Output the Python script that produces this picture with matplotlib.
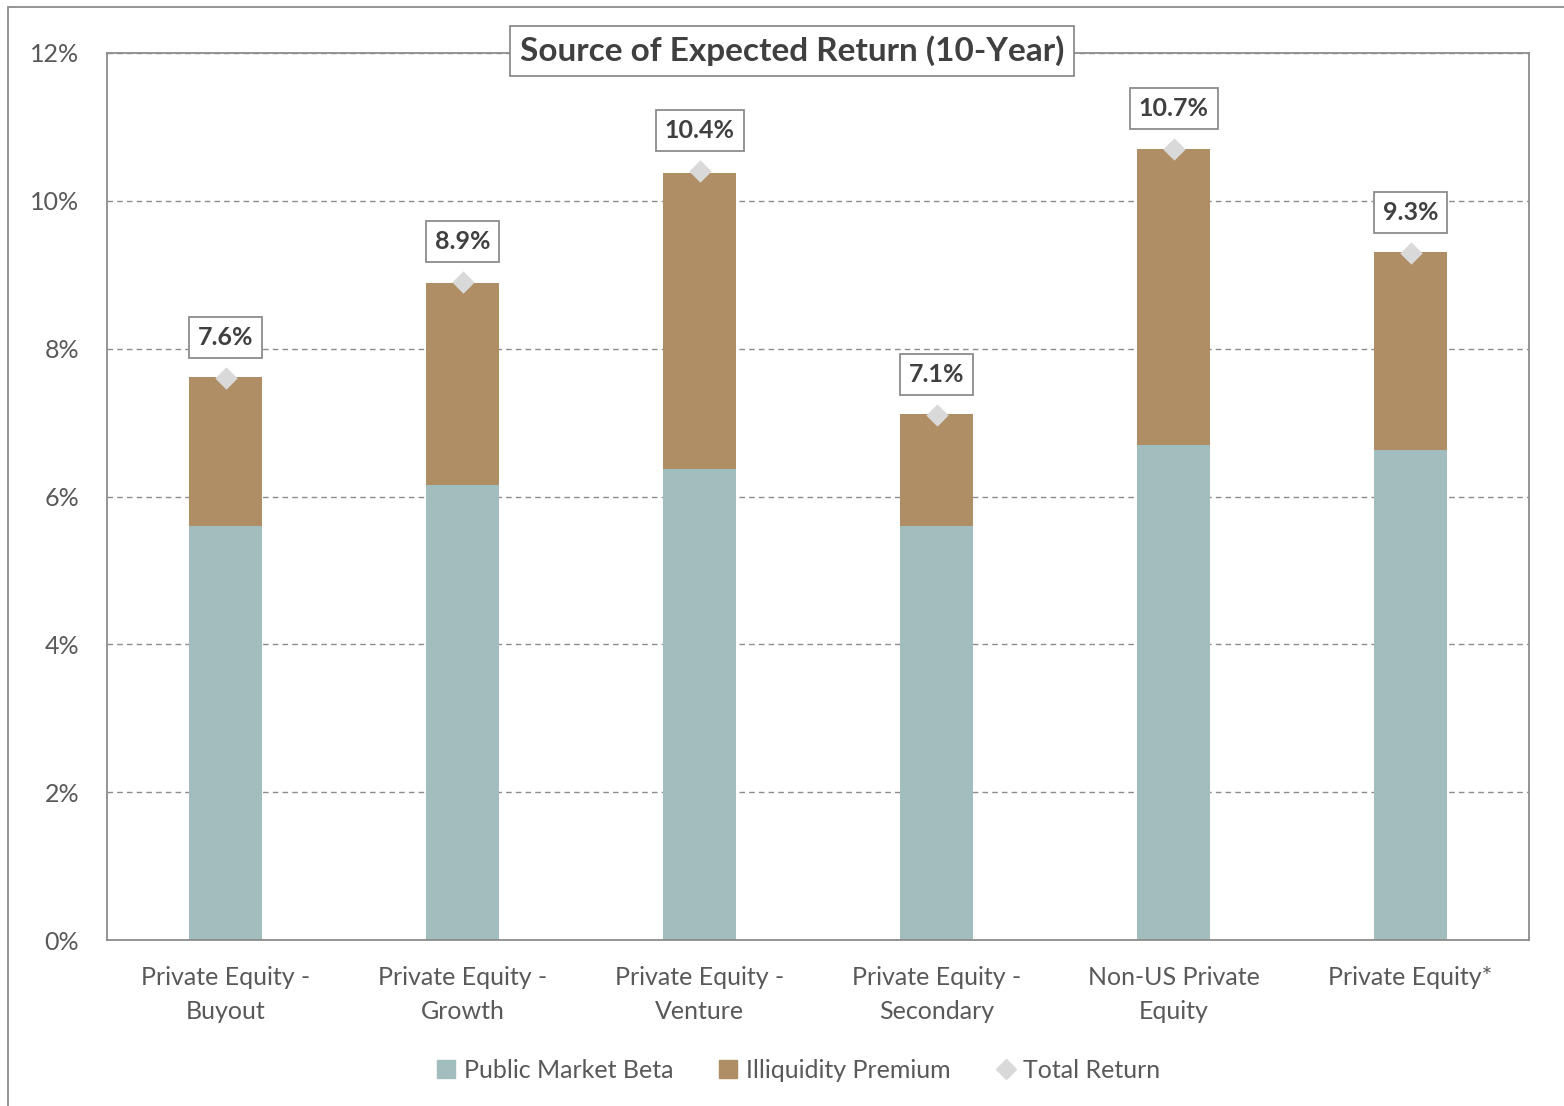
import matplotlib
matplotlib.use("Agg")
import matplotlib.pyplot as plt
from matplotlib.lines import Line2D
from matplotlib.patches import Rectangle
import numpy as np

categories = ["Private Equity -\nBuyout", "Private Equity -\nGrowth", "Private Equity -\nVenture",
              "Private Equity -\nSecondary", "Non-US Private\nEquity", "Private Equity*"]
public_beta = [5.6, 6.15, 6.37, 5.6, 6.7, 6.63]
illiquidity = [2.02, 2.74, 4.0, 1.52, 4.0, 2.68]
total_return = [7.6, 8.9, 10.4, 7.1, 10.7, 9.3]
yticks = [0, 2, 4, 6, 8, 10, 12]

C_BETA = "#A1BDBE"
C_ILLIQ = "#AF8E65"
C_TOTAL = "#D9D9D9"
TXT = "#595959"
DARK = "#404040"

plt.rcParams['font.family'] = ['Lato', 'DejaVu Sans']

fig = plt.figure(figsize=(15.64, 11.06), dpi=100)
ax = fig.add_axes([107/1564, 1-940/1106, (1529-107)/1564, (940-53)/1106])

x = np.arange(len(categories))
w = 0.31
ax.bar(x, public_beta, w, color=C_BETA, zorder=2)
ax.bar(x, illiquidity, w, bottom=public_beta, color=C_ILLIQ, zorder=2)
ax.scatter(x, total_return, marker="D", s=130, color=C_TOTAL, zorder=3, linewidths=0)

for xi, t in zip(x, total_return):
    ax.annotate(f"{t:.1f}%", (xi, t), xytext=(0, 29), textcoords="offset points",
                ha="center", va="center", fontsize=18, fontweight="bold", color=DARK,
                bbox=dict(boxstyle="square,pad=0.36", fc="white", ec="#8C8C8C", lw=1.3),
                zorder=4)

ax.set_xlim(-0.5, 5.5)
ax.set_ylim(0, 12)
ax.set_yticks(yticks)
ax.set_yticklabels([f"{v}%" for v in yticks])
ax.set_xticks(x)
ax.set_xticklabels(categories, linespacing=1.55)
ax.tick_params(axis="both", length=0, labelsize=18, labelcolor=TXT)
ax.tick_params(axis="y", pad=20)
ax.tick_params(axis="x", pad=19)
ax.yaxis.grid(True, linestyle=(0, (4, 3)), color="#8C8C8C", lw=1.0, zorder=1)
ax.set_axisbelow(True)
for s in ax.spines.values():
    s.set_color("#8C8C8C")
    s.set_linewidth(1.3)

fig.text(792/1564, 1-51/1106, "Source of Expected Return (10-Year)", ha="center", va="center",
         fontsize=24, fontweight="bold", color=DARK,
         bbox=dict(boxstyle="square,pad=0.3", fc="white", ec="#8C8C8C", lw=1.3))

fig.patches.append(Rectangle((8/1564, -0.05), 1.1, 1-7/1106+0.05, transform=fig.transFigure,
                             fill=False, ec="#8C8C8C", lw=1.3))

handles = [Line2D([], [], marker="s", ls="", color=C_BETA, markersize=13),
           Line2D([], [], marker="s", ls="", color=C_ILLIQ, markersize=13),
           Line2D([], [], marker="D", ls="", color=C_TOTAL, markersize=10)]
fig.legend(handles, ["Public Market Beta", "Illiquidity Premium", "Total Return"],
           loc="center", bbox_to_anchor=(797/1564, 1-1070/1106), ncol=3, frameon=False,
           fontsize=18, labelcolor=TXT, handletextpad=0.2, columnspacing=1.7, handlelength=1.0)

fig.savefig("out.png", dpi=100)
